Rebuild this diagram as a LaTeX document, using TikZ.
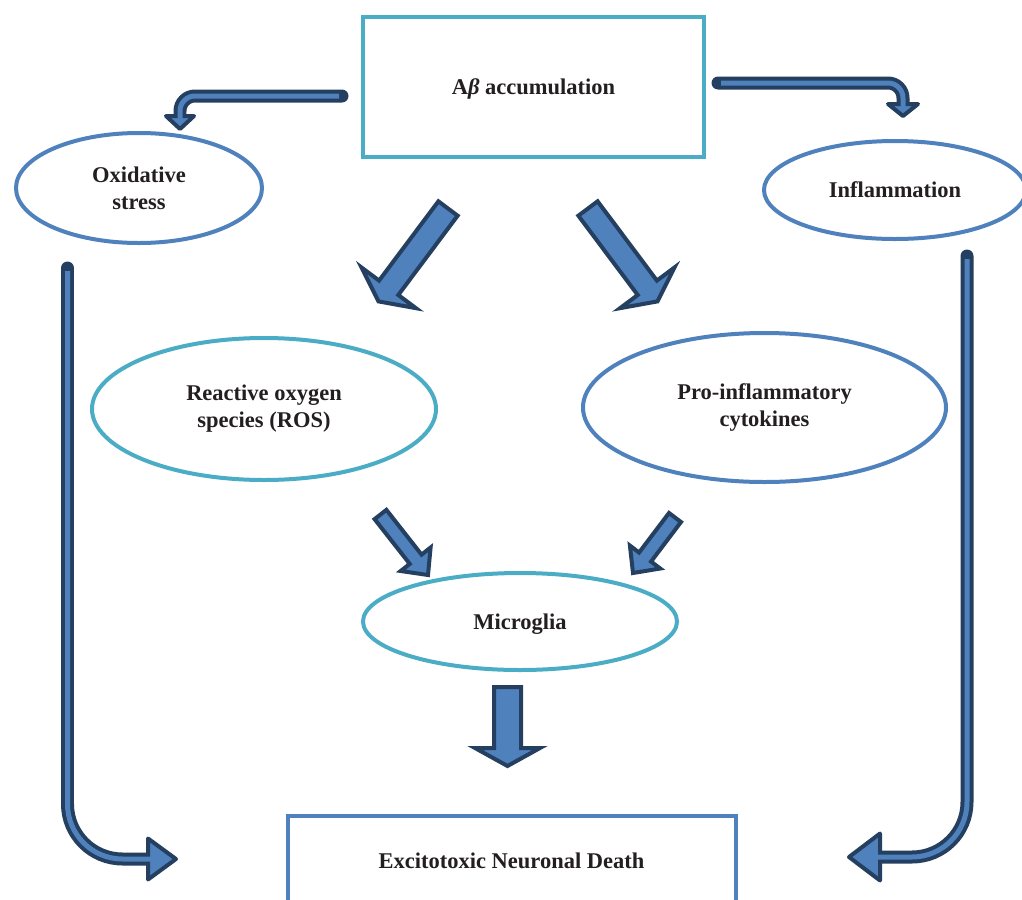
\documentclass[tikz,border=0pt]{standalone}
\usepackage{fontspec}
\setmainfont{Liberation Serif}
\usetikzlibrary{shapes.geometric,calc}
\definecolor{aqua}{HTML}{4BACC6}
\definecolor{blu}{HTML}{4F81BD}
\definecolor{navy}{HTML}{243F60}
\definecolor{ink}{HTML}{231F20}
% straight block arrow: tail, tip, shaft half width, head half width, head length (px)
\newcommand\blockarrow[5]{%
  \coordinate (ba-h) at ($(#2)!#5*0.02cm!(#1)$);
  \filldraw[blockarr] ($(#1)!#3*0.02cm!90:(#2)$) -- ($(ba-h)!#3*0.02cm!90:(#2)$)
    -- ($(ba-h)!#4*0.02cm!90:(#2)$) -- (#2) -- ($(ba-h)!#4*0.02cm!-90:(#2)$)
    -- ($(ba-h)!#3*0.02cm!-90:(#2)$) -- ($(#1)!#3*0.02cm!-90:(#2)$) -- cycle;}
% triangular head: base centre, tip, half width (px)
\newcommand\arrowhead[3]{%
  \filldraw[blockarr, line join=round] ($(#1)!#3*0.02cm!90:(#2)$) -- (#2)
    -- ($(#1)!#3*0.02cm!-90:(#2)$) -- cycle;}
\begin{document}
\begin{tikzpicture}[x=0.02cm, y=-0.02cm,
  every node/.style={font=\fontsize{12.8}{15.3}\selectfont\bfseries, text=ink, align=center, inner sep=0pt},
  sz/.style 2 args={minimum width=#1*0.02cm, minimum height=#2*0.02cm},
  ell/.style={ellipse, draw=#1, line width=0.08cm},
  box/.style={rectangle, draw=#1, line width=0.08cm},
  blockarr/.style={fill=blu, draw=navy, line width=0.08cm, line join=miter},
  shaftout/.style={draw=navy, line width=0.26cm, line cap=round},
  shaftin/.style={draw=blu, line width=0.1cm}]
\clip (0,0) rectangle (1022,900);
\fill[white] (0,0) rectangle (1022,900);

% nodes
\node[box=aqua, sz={341}{140}, text depth=0pt] (ab) at (533.5,87) {A\textit{β} accumulation};
\node[ell=blu, sz={246}{110}] (ox) at (139,188) {Oxidative\\stress};
\node[ell=blu, sz={262}{98}] (inf) at (895,190) {Inflammation};
\node[ell=aqua, sz={344}{142}] (ros) at (264,409) {Reactive oxygen\\species (ROS)};
\node[ell=blu, sz={363}{149}] (pro) at (764.5,407.5) {Pro-inflammatory\\cytokines};
\node[ell=aqua, sz={314}{97}, text depth=0pt] (mic) at (520,621.5) {Microglia};
\node[box=blu, sz={448}{91}] (death) at (511.5,861) {Excitotoxic Neuronal Death};

% straight block arrows
\coordinate (a1t) at (448,208.5); \coordinate (a1h) at (378.5,301.4);
\coordinate (a2t) at (588,208.5); \coordinate (a2h) at (657.5,301.4);
\coordinate (a3t) at (380.5,514.5); \coordinate (a3h) at (428,575);
\coordinate (a4t) at (675,517.5); \coordinate (a4h) at (633,573);
\coordinate (a5t) at (507.5,687); \coordinate (a5h) at (507.5,766);
\blockarrow{a1t}{a1h}{12}{34}{17}
\blockarrow{a2t}{a2h}{12}{34}{17}
\blockarrow{a3t}{a3h}{7.5}{19}{20}
\blockarrow{a4t}{a4h}{7.5}{19}{20}
\blockarrow{a5t}{a5h}{13.5}{32.5}{18}

% bent arrow: Abeta -> oxidative stress
\coordinate (b1a) at (342,96); \coordinate (b1b) at (180,96);
\coordinate (b1c) at (180,116); \coordinate (b1d) at (180,129);
\draw[shaftout, rounded corners=0.3cm] (b1a) -- (b1b) -- (b1c);
\arrowhead{b1c}{b1d}{14}
\draw[shaftin, rounded corners=0.3cm, shorten <=0.06cm] (b1a) -- (b1b) -- ($(b1c)+(0,3)$);

% bent arrow: Abeta -> inflammation
\coordinate (b2a) at (718,83); \coordinate (b2b) at (903,83);
\coordinate (b2c) at (903,104); \coordinate (b2d) at (903,116);
\draw[shaftout, rounded corners=0.3cm] (b2a) -- (b2b) -- (b2c);
\arrowhead{b2c}{b2d}{15}
\draw[shaftin, rounded corners=0.3cm, shorten <=0.06cm] (b2a) -- (b2b) -- ($(b2c)+(0,3)$);

% long arrow: oxidative stress -> death
\coordinate (b3a) at (67.5,268); \coordinate (b3b) at (67.5,859);
\coordinate (b3c) at (148,859); \coordinate (b3d) at (176,859);
\draw[shaftout, rounded corners=1.1cm] (b3a) -- (b3b) -- (b3c);
\arrowhead{b3c}{b3d}{20.5}
\draw[shaftin, rounded corners=1.1cm, shorten <=0.06cm] (b3a) -- (b3b) -- ($(b3c)+(3,0)$);

% long arrow: inflammation -> death
\coordinate (b4a) at (967,256); \coordinate (b4b) at (967,857);
\coordinate (b4c) at (880,857); \coordinate (b4d) at (849,857);
\draw[shaftout, rounded corners=1.1cm] (b4a) -- (b4b) -- (b4c);
\arrowhead{b4c}{b4d}{23.5}
\draw[shaftin, rounded corners=1.1cm, shorten <=0.06cm] (b4a) -- (b4b) -- ($(b4c)+(-3,0)$);
\end{tikzpicture}
\end{document}
